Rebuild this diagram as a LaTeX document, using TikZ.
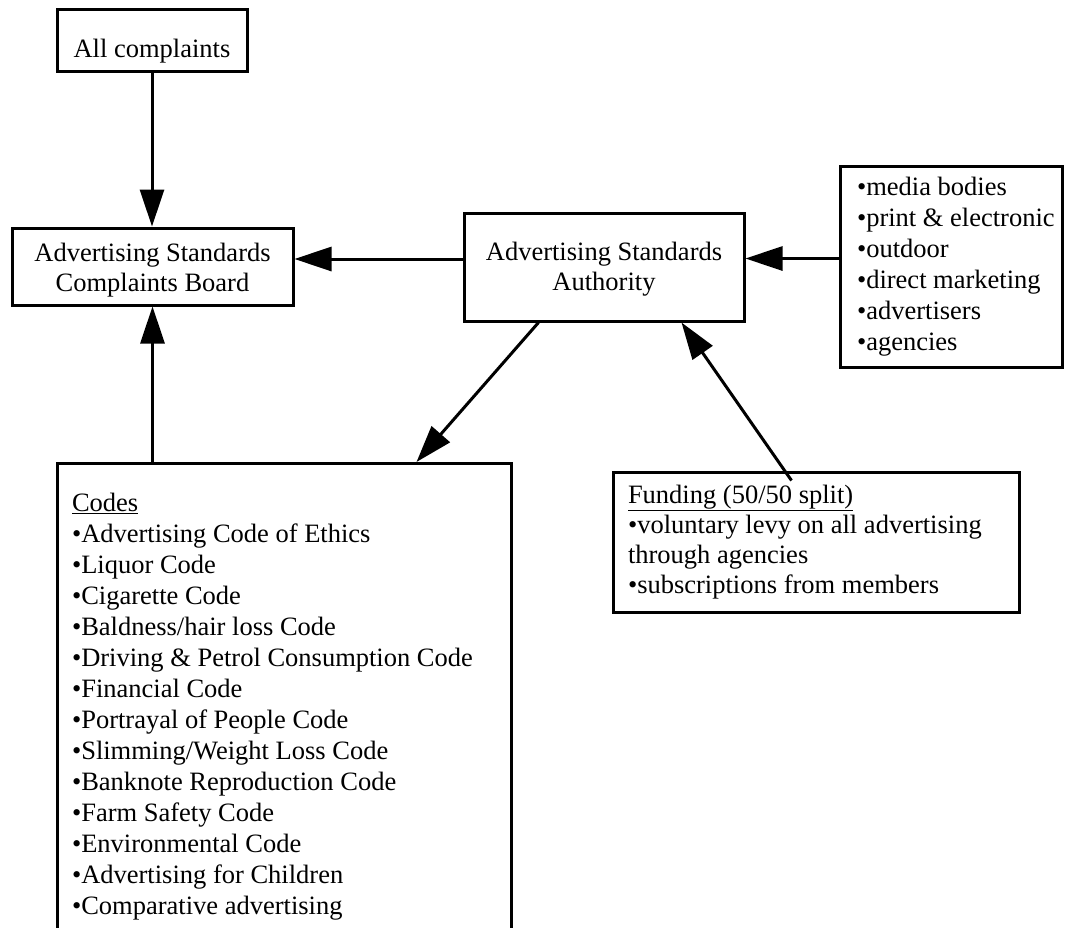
\documentclass[tikz,border=0pt]{standalone}
\usepackage{fontspec}
\setmainfont{Liberation Serif}
\usetikzlibrary{arrows.meta,calc}
\tikzset{
  box/.style={draw, line width=3pt, inner sep=0pt, font=\fontsize{26.5}{30}\selectfont},
  conn/.style={line width=3pt, -{Triangle[length=37pt,width=24pt]}},
}
\newcommand{\lst}[2]{\makebox[#1][l]{\begin{tabular}{@{}l@{}}#2\end{tabular}}}
\newcommand{\ctr}[2]{\raisebox{#1}[\height][\depth]{\begin{tabular}{@{}c@{}}#2\end{tabular}}}
\begin{document}
\begin{tikzpicture}[x=1pt,y=-1pt]
\useasboundingbox (0,0) rectangle (1066,927);
\node[box, minimum width=190pt, minimum height=62pt, text height=40pt, text depth=6pt] (allc) at (152,40) {All complaints};
\node[box, minimum width=281pt, minimum height=77pt] (ascb) at (152.5,266.5) {\ctr{-4pt}{Advertising Standards\\Complaints Board}};
\node[box, minimum width=280pt, minimum height=108pt] (asa) at (604,267) {\ctr{-2pt}{Advertising Standards\\Authority}};
\node[box, minimum width=222pt, minimum height=201pt, font=\fontsize{26.5}{31}\selectfont] (media) at (951,266.5)
  {\lst{188pt}{\textbullet media bodies\\ \textbullet print \& electronic\\ \textbullet outdoor\\ \textbullet direct marketing\\ \textbullet advertisers\\ \textbullet agencies}};
\node[box, anchor=north, minimum width=454pt, inner ysep=26.3pt, font=\fontsize{26.5}{31}\selectfont] (codes) at (284,462)
  {\lst{424pt}{\underline{Codes}\\
   \textbullet Advertising Code of Ethics\\
   \textbullet Liquor Code\\
   \textbullet Cigarette Code\\
   \textbullet Baldness/hair loss Code\\
   \textbullet Driving \& Petrol Consumption Code\\
   \textbullet Financial Code\\
   \textbullet Portrayal of People Code\\
   \textbullet Slimming/Weight Loss Code\\
   \textbullet Banknote Reproduction Code\\
   \textbullet Farm Safety Code\\
   \textbullet Environmental Code\\
   \textbullet Advertising for Children\\
   \textbullet Comparative advertising}};
\node[box, minimum width=406pt, minimum height=140pt] (fund) at (816,542)
  {\lst{376pt}{\underline{Funding (50/50 split)}\\ \textbullet voluntary levy on all advertising\\ through agencies\\ \textbullet subscriptions from members}};
\draw[conn] (allc.south) -- (allc.south |- ascb.north);
\draw[conn] (ascb.south |- codes.north) -- (ascb.south);
\coordinate (a1) at ($(asa.west)+(0,-8)$);
\draw[conn] (a1) -- (a1 -| ascb.east);
\coordinate (m1) at ($(media.west)+(0,-8)$);
\draw[conn] (m1) -- (m1 -| asa.east);
\draw[conn] ($(asa.south west)+(76,0)$) -- ($(codes.north west)+(361,0)$);
\coordinate (fs) at ($(fund.north west)+(180,10)$);
\draw[conn] (fs) -- ($(asa.south west)+(219,0)$);
\end{tikzpicture}
\end{document}
